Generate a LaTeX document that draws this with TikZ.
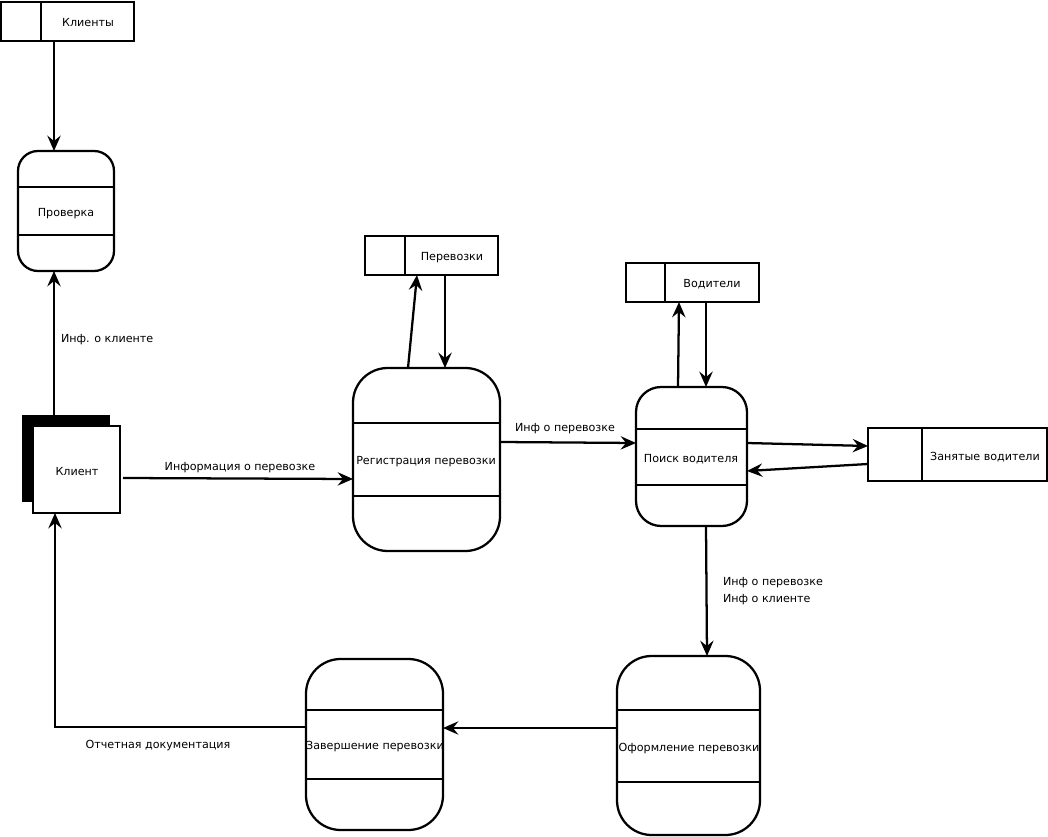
\documentclass[tikz,border=0pt]{standalone}
\usepackage{fontspec}
\setmainfont{DejaVu Sans}
\usetikzlibrary{arrows.meta}
\begin{document}
\begin{tikzpicture}[x=0.75pt,y=-0.75pt,
  every node/.style={font=\fontsize{8.35}{12.75}\selectfont, inner sep=0pt, outer sep=0pt},
  txt/.style={yshift=-1.2pt},
  store/.style={draw, line width=1.6pt, fill=white},
  proc/.style={draw, line width=1.7pt, rounded corners=#1},
  proc/.default=26pt,
  divline/.style={line width=1.7pt},
  sdiv/.style={line width=1pt},
  arr/.style={line width=1.7pt, -{Stealth[length=11.5pt,width=10pt,inset=4pt]}},
  lbl/.style={anchor=west}
]
\useasboundingbox (0,0) rectangle (1048,837);

% data stores
\node[store, minimum width=99.75pt, minimum height=29.25pt] (klienty) at (67.5,21.5) {};
\draw[sdiv] ([xshift=30pt]klienty.north west) -- ([xshift=30pt]klienty.south west);
\node[txt] (tklienty) at (88,21) {Клиенты};

\node[store, minimum width=99.75pt, minimum height=29.25pt] (perev) at (431.5,255.5) {};
\draw[sdiv] ([xshift=30pt]perev.north west) -- ([xshift=30pt]perev.south west);
\node[txt] (tperev) at (452,256) {Перевозки};

\node[store, minimum width=99.75pt, minimum height=29.25pt] (vod) at (692.5,282.5) {};
\draw[sdiv] ([xshift=29.25pt]vod.north west) -- ([xshift=29.25pt]vod.south west);
\node[txt] (tvod) at (712,283) {Водители};

\node[store, minimum width=134.25pt, minimum height=39.75pt] (zan) at (957.5,454.5) {};
\draw[sdiv] ([xshift=40.5pt]zan.north west) -- ([xshift=40.5pt]zan.south west);
\node[txt] (tzan) at (985,456) {Занятые водители};

% processes
\node[proc=15pt, minimum width=72pt, minimum height=90pt] (prov) at (66,211) {};
\draw[divline] ([yshift=-27pt]prov.north west) -- ([yshift=-27pt]prov.north east);
\draw[divline] ([yshift=-63pt]prov.north west) -- ([yshift=-63pt]prov.north east);
\node[txt] (tprov) at (66,212) {Проверка};

\node[proc, minimum width=110.25pt, minimum height=137.25pt] (reg) at (426.5,459.5) {};
\draw[divline] ([yshift=-41.25pt]reg.north west) -- ([yshift=-41.25pt]reg.north east);
\draw[divline] ([yshift=-96pt]reg.north west) -- ([yshift=-96pt]reg.north east);
\node[txt] (treg) at (426,460) {Регистрация перевозки};

\node[proc=18.75pt, minimum width=83.25pt, minimum height=104.25pt] (poisk) at (691.5,456.5) {};
\draw[divline] ([yshift=-31.5pt]poisk.north west) -- ([yshift=-31.5pt]poisk.north east);
\draw[divline] ([yshift=-73.5pt]poisk.north west) -- ([yshift=-73.5pt]poisk.north east);
\node[txt] (tpoisk) at (691,458) {Поиск водителя};

\node[proc, minimum width=107.25pt, minimum height=134.25pt] (oform) at (688.5,745.5) {};
\draw[divline] ([yshift=-40.5pt]oform.north west) -- ([yshift=-40.5pt]oform.north east);
\draw[divline] ([yshift=-94.5pt]oform.north west) -- ([yshift=-94.5pt]oform.north east);
\node[txt] (toform) at (689,747) {Оформление перевозки};

\node[proc, minimum width=102.75pt, minimum height=128.25pt] (zav) at (374.5,744.5) {};
\draw[divline] ([yshift=-38.25pt]zav.north west) -- ([yshift=-38.25pt]zav.north east);
\draw[divline] ([yshift=-90pt]zav.north west) -- ([yshift=-90pt]zav.north east);
\node[txt] (tzav) at (375,745) {Завершение перевозки};

% external entity
\node[fill=black, minimum width=66pt, minimum height=65.25pt] (klsh) at (66,458.5) {};
\node[draw, fill=white, line width=1.3pt, minimum width=65.25pt, minimum height=65.25pt] (klient) at (76.5,469.5) {};
\node[txt] (tklient) at (77,470) {Клиент};

% connectors
\draw[arr] ([xshift=-10.125pt]klienty.south) -- ([xshift=-9pt]prov.north);
\draw[arr] ([xshift=-9pt]klsh.north) -- ([xshift=-9pt]prov.south);
\node[lbl, txt] (l1) at (61,338) {Инф. о клиенте};

\draw[arr] ([xshift=2.25pt,yshift=-6.375pt]klient.east) -- ([yshift=-14.625pt]reg.west);
\node[txt] (l2) at (240,466) {Информация о перевозке};

\draw[arr] ([xshift=-13.875pt]reg.north) -- ([xshift=-10.875pt]perev.south);
\draw[arr] ([xshift=10.125pt]perev.south) -- ([xshift=13.875pt]reg.north);

\draw[arr] ([yshift=13.125pt]reg.east) -- ([yshift=10.125pt]poisk.west);
\node[txt] (l3) at (565,427) {Инф о перевозке};

\draw[arr] ([xshift=-10.125pt]poisk.north) -- ([xshift=-10.125pt]vod.south);
\draw[arr] ([xshift=10.125pt]vod.south) -- ([xshift=10.875pt]poisk.north);

\draw[arr] ([yshift=10.125pt]poisk.east) -- ([yshift=6.375pt]zan.west);
\draw[arr] ([yshift=-7.125pt]zan.west) -- ([yshift=-10.875pt]poisk.east);

\draw[arr] ([xshift=10.875pt]poisk.south) -- ([xshift=13.875pt]oform.north);
\node[anchor=north west, align=left, txt] (l4) at (723,576) {Инф о перевозке\\Инф о клиенте};

\draw[arr] ([yshift=13.125pt]oform.west) -- ([yshift=12.375pt]zav.east);

\draw[arr] ([yshift=13.125pt]zav.west) -| ([xshift=-16.125pt]klient.south);
\node[txt] (l5) at (158,744) {Отчетная документация};
\end{tikzpicture}
\end{document}
